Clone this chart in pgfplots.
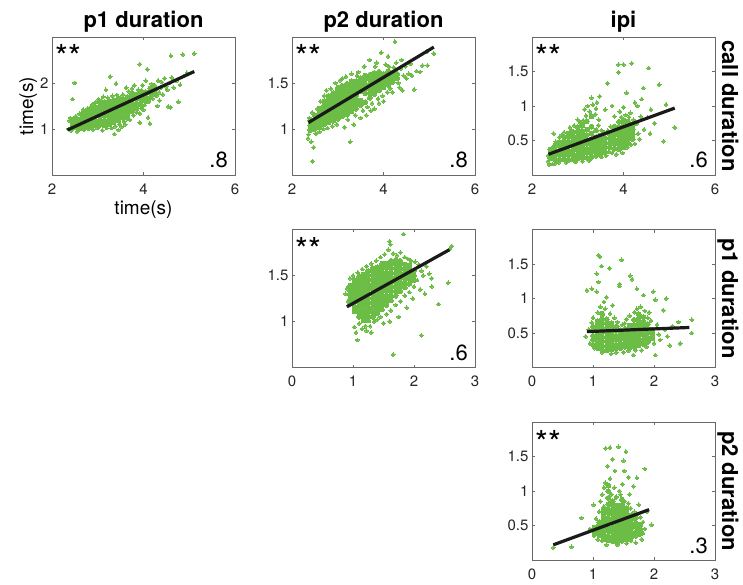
\documentclass[border=0pt]{standalone}
\usepackage{fontspec}
\setmainfont{TeX Gyre Heros}
\usepackage{pgfplots}
\pgfplotsset{compat=1.18}
\definecolor{dotgreen}{RGB}{108,189,69}
\definecolor{axgray}{RGB}{105,105,105}
\definecolor{txtgray}{RGB}{38,38,38}
\definecolor{fitblack}{RGB}{26,26,26}
\newcommand{\titlefont}{\fontsize{22}{22}\selectfont\bfseries}
\newcommand{\starfont}{\fontsize{33}{33}\selectfont}
\newcommand{\numfont}{\fontsize{22}{22}\selectfont}
\pgfplotsset{
  panel/.style={
    width=183pt, height=138pt, scale only axis, anchor=south west, clip=false,
    clip marker paths=true,
    axis line style={draw=axgray, line width=0.8pt},
    tick style={draw=axgray, line width=0.8pt},
    tick align=inside, major tick length=3pt, tick pos=both,
    tick label style={font=\fontsize{15}{15}\selectfont, text=txtgray},
    xticklabel style={yshift=-5pt},
    /pgf/number format/assume math mode=true,
  },
  rowone/.style={xmin=2, xmax=6, xtick={2,4,6}},
  rowlow/.style={xmin=0, xmax=3, xtick={0,1,2,3}},
  core/.style={only marks, mark=*, mark size=2.4pt, mark options={fill=dotgreen, draw=dotgreen, line width=0pt}},
  dots/.style={only marks, mark=*, mark size=1.9pt, mark options={fill=dotgreen, draw=dotgreen, line width=0pt}},
  fit/.style={no marks, line width=3.2pt, color=fitblack},
}
\newcommand{\stars}{\node[anchor=base west, inner sep=0pt, font=\starfont, text=black] at ([xshift=3pt,yshift=-32pt]rel axis cs:0,1) {**};}
\newcommand{\rval}[1]{\node[anchor=base east, inner sep=0pt, font=\numfont, text=black] at ([xshift=-7pt,yshift=7pt]rel axis cs:1,0) {#1};}
\newcommand{\coltitle}[1]{\node[anchor=base, inner sep=0pt, font=\titlefont] at ([yshift=9pt]rel axis cs:0.5,1) {#1};}
\newcommand{\rowlabel}[1]{\node[anchor=base, inner sep=0pt, rotate=-90, font=\titlefont] at ([xshift=7pt]rel axis cs:1,0.5) {#1};}
\begin{document}
\begin{tikzpicture}
\useasboundingbox (0,0) rectangle (743pt,584pt);
% ---------------- row 1, col 1
\begin{axis}[panel, rowone, at={(52pt,409pt)}, ymin=0, ymax=3, ytick={1,2}]
\addplot[core] coordinates {
(2.45,1.02)(2.45,1.12)(2.45,1.20)
(2.55,1.02)(2.55,1.12)(2.55,1.22)
(2.65,1.04)(2.65,1.14)(2.65,1.24)(2.65,1.33)
(2.75,1.06)(2.75,1.16)(2.75,1.26)(2.75,1.36)
(2.85,1.07)(2.85,1.17)(2.85,1.27)(2.85,1.37)(2.85,1.46)
(2.95,1.08)(2.95,1.18)(2.95,1.28)(2.95,1.38)(2.95,1.48)
(3.05,1.09)(3.05,1.19)(3.05,1.29)(3.05,1.39)(3.05,1.49)(3.05,1.57)
(3.15,1.08)(3.15,1.18)(3.15,1.28)(3.15,1.38)(3.15,1.48)(3.15,1.58)
(3.25,1.10)(3.25,1.20)(3.25,1.30)(3.25,1.40)(3.25,1.50)(3.25,1.60)
(3.35,1.14)(3.35,1.24)(3.35,1.34)(3.35,1.44)(3.35,1.54)(3.35,1.63)
(3.45,1.18)(3.45,1.28)(3.45,1.38)(3.45,1.48)(3.45,1.58)(3.45,1.66)
(3.55,1.24)(3.55,1.34)(3.55,1.44)(3.55,1.54)(3.55,1.64)
(3.65,1.30)(3.65,1.40)(3.65,1.50)(3.65,1.60)(3.65,1.70)
(3.75,1.38)(3.75,1.48)(3.75,1.58)(3.75,1.68)(3.75,1.77)
(3.85,1.45)(3.85,1.55)(3.85,1.65)(3.85,1.75)
(3.95,1.52)(3.95,1.62)(3.95,1.72)(3.95,1.82)
(4.05,1.60)(4.05,1.70)(4.05,1.80)
(4.15,1.68)(4.15,1.78)(4.15,1.88)
(4.25,1.76)(4.25,1.86)};
\addplot[dots] coordinates {
(2.36,1.00)(2.38,1.18)(2.40,1.24)(2.42,0.97)(2.45,1.65)(2.50,2.00)(2.52,1.28)(2.55,0.95)
(2.60,1.33)(2.62,1.00)(2.68,1.42)(2.70,0.98)(2.78,1.45)(2.80,1.00)(2.88,1.54)(2.90,0.99)
(2.95,1.58)(3.00,1.02)(3.02,1.65)(3.08,1.62)(3.10,0.97)(3.12,1.70)(3.18,1.85)(3.20,1.02)
(3.22,1.68)(3.27,2.14)(3.30,1.02)(3.32,1.72)(3.36,0.89)(3.38,1.06)(3.40,1.99)(3.42,1.74)
(3.45,0.98)(3.48,1.10)(3.52,1.05)(3.55,1.75)(3.58,1.16)(3.60,1.10)(3.62,1.90)(3.65,1.22)
(3.68,1.82)(3.70,1.20)(3.75,1.88)(3.78,1.30)(3.80,1.95)(3.85,1.36)(3.88,1.85)(3.92,2.41)
(3.92,1.34)(3.92,1.14)(3.96,1.44)(3.98,1.95)(4.02,1.52)(4.05,2.05)(4.08,2.30)(4.10,1.25)
(4.12,1.60)(4.14,1.12)(4.18,1.98)(4.20,1.66)(4.25,1.95)(4.28,1.72)(4.32,2.05)(4.34,1.80)
(4.38,1.90)(4.40,2.02)(4.42,1.75)(4.46,2.10)(4.50,1.92)(4.52,1.85)(4.54,1.49)(4.58,2.00)
(4.60,2.59)(4.62,2.12)(4.66,1.90)(4.72,2.05)(4.76,1.59)(4.80,1.96)(4.86,2.62)(4.88,2.15)
(4.95,2.22)(5.11,2.64)(4.59,1.47)(4.30,1.50)(4.00,1.42)(4.35,1.62)(3.50,1.68)(3.00,1.60)};
\addplot[fit] coordinates {(2.34,0.98) (5.11,2.25)};
\stars \rval{.8}
\coltitle{p1 duration}
\node[anchor=base, inner sep=0pt, rotate=90, font=\fontsize{19}{19}\selectfont] at ([xshift=-19pt]rel axis cs:0,0.5) {time(s)};
\node[anchor=base, inner sep=0pt, font=\fontsize{19}{19}\selectfont] at ([yshift=-40pt]rel axis cs:0.5,0) {time(s)};
\end{axis}
% ---------------- row 1, col 2
\begin{axis}[panel, rowone, at={(292pt,409pt)}, ymin=0.5, ymax=2, ytick={1,1.5}]
\addplot[core] coordinates {
(2.40,0.99)(2.40,1.04)(2.40,1.09)
(2.50,1.00)(2.50,1.05)(2.50,1.10)(2.50,1.15)
(2.60,1.02)(2.60,1.07)(2.60,1.12)(2.60,1.17)(2.60,1.22)
(2.70,1.05)(2.70,1.10)(2.70,1.15)(2.70,1.20)(2.70,1.25)(2.70,1.30)
(2.80,1.07)(2.80,1.12)(2.80,1.17)(2.80,1.22)(2.80,1.27)(2.80,1.32)(2.80,1.36)
(2.90,1.09)(2.90,1.14)(2.90,1.19)(2.90,1.24)(2.90,1.29)(2.90,1.34)(2.90,1.39)
(3.00,1.11)(3.00,1.16)(3.00,1.21)(3.00,1.26)(3.00,1.31)(3.00,1.36)(3.00,1.41)(3.00,1.45)
(3.10,1.14)(3.10,1.19)(3.10,1.24)(3.10,1.29)(3.10,1.34)(3.10,1.39)(3.10,1.44)(3.10,1.47)
(3.20,1.16)(3.20,1.21)(3.20,1.26)(3.20,1.31)(3.20,1.36)(3.20,1.41)(3.20,1.46)(3.20,1.49)
(3.30,1.19)(3.30,1.24)(3.30,1.29)(3.30,1.34)(3.30,1.39)(3.30,1.44)(3.30,1.49)(3.30,1.52)
(3.40,1.22)(3.40,1.27)(3.40,1.32)(3.40,1.37)(3.40,1.42)(3.40,1.47)(3.40,1.52)
(3.50,1.26)(3.50,1.31)(3.50,1.41)(3.50,1.46)(3.50,1.51)(3.50,1.55)
(3.60,1.29)(3.60,1.39)(3.60,1.44)(3.60,1.49)(3.60,1.54)(3.60,1.58)
(3.70,1.34)(3.70,1.39)(3.70,1.44)(3.70,1.49)(3.70,1.54)(3.70,1.59)
(3.80,1.38)(3.80,1.43)(3.80,1.48)(3.80,1.53)(3.80,1.58)(3.80,1.61)
(3.90,1.42)(3.90,1.47)(3.90,1.52)(3.90,1.57)(3.90,1.62)
(4.00,1.45)(4.00,1.50)(4.00,1.55)(4.00,1.60)
(4.10,1.48)(4.10,1.53)(4.10,1.58)(4.10,1.63)
(4.20,1.51)(4.20,1.56)(4.20,1.61)
(4.30,1.55)(4.30,1.60)};
\addplot[dots] coordinates {
(2.35,0.90)(2.36,0.94)(2.38,1.12)(2.42,0.86)(2.45,0.65)(2.47,0.80)(2.44,1.18)(2.52,0.95)
(2.55,1.22)(2.60,0.97)(2.62,1.30)(2.68,1.00)(2.70,1.36)(2.75,1.42)(2.78,1.01)(2.85,1.44)
(2.88,1.03)(2.95,1.50)(2.98,1.05)(3.05,1.53)(3.10,1.55)(3.15,1.02)(3.18,1.57)(3.22,1.10)
(3.27,0.86)(3.30,1.60)(3.35,1.05)(3.38,1.15)(3.42,1.58)(3.45,1.62)(3.50,1.12)(3.55,1.20)
(3.58,1.68)(3.62,1.15)(3.65,1.24)(3.70,1.75)(3.72,1.20)(3.75,1.28)(3.80,1.22)(3.82,1.68)
(3.85,1.72)(3.88,1.33)(3.90,1.28)(3.95,1.83)(3.98,1.36)(4.00,1.30)(4.05,1.70)(4.08,1.40)
(4.10,1.79)(4.12,1.68)(4.15,1.44)(4.20,1.40)(4.22,1.67)(4.25,1.95)(4.28,1.72)(4.32,1.50)
(4.35,1.45)(4.38,1.66)(4.40,1.75)(4.41,1.42)(4.44,1.58)(4.48,1.68)(4.50,1.55)(4.55,1.60)
(4.59,1.71)(4.62,1.58)(4.67,1.43)(4.72,1.63)(4.80,1.62)(4.85,1.69)(4.94,1.84)(4.96,1.69)
(5.10,1.82)(3.48,1.52)(3.60,1.46)};
\addplot[fit] coordinates {(2.36,1.07) (5.10,1.89)};
\stars \rval{.8}
\coltitle{p2 duration}
\end{axis}
% ---------------- row 1, col 3
\begin{axis}[panel, rowone, at={(532pt,409pt)}, ymin=0, ymax=2, ytick={0.5,1,1.5}]
\addplot[core] coordinates {
(2.40,0.24)(2.40,0.30)(2.40,0.37)
(2.50,0.23)(2.50,0.30)(2.50,0.36)(2.50,0.43)
(2.60,0.22)(2.60,0.29)(2.60,0.35)(2.60,0.42)(2.60,0.48)
(2.70,0.23)(2.70,0.29)(2.70,0.36)(2.70,0.42)(2.70,0.49)(2.70,0.55)
(2.80,0.22)(2.80,0.29)(2.80,0.35)(2.80,0.42)(2.80,0.48)(2.80,0.55)(2.80,0.60)
(2.90,0.23)(2.90,0.29)(2.90,0.36)(2.90,0.42)(2.90,0.49)(2.90,0.55)(2.90,0.62)
(3.00,0.24)(3.00,0.30)(3.00,0.37)(3.00,0.43)(3.00,0.50)(3.00,0.56)(3.00,0.63)(3.00,0.69)
(3.10,0.25)(3.10,0.31)(3.10,0.38)(3.10,0.44)(3.10,0.51)(3.10,0.57)(3.10,0.64)(3.10,0.72)
(3.20,0.25)(3.20,0.32)(3.20,0.38)(3.20,0.45)(3.20,0.51)(3.20,0.58)(3.20,0.66)(3.20,0.78)
(3.30,0.26)(3.30,0.33)(3.30,0.39)(3.30,0.46)(3.30,0.52)(3.30,0.60)(3.30,0.70)(3.30,0.85)
(3.40,0.28)(3.40,0.34)(3.40,0.41)(3.40,0.47)(3.40,0.55)(3.40,0.65)
(3.50,0.30)(3.50,0.36)(3.50,0.43)(3.50,0.50)(3.50,0.57)
(3.60,0.33)(3.60,0.40)(3.60,0.47)(3.60,0.54)
(3.70,0.40)(3.70,0.47)(3.70,0.54)(3.70,0.60)
(3.80,0.38)(3.80,0.45)(3.80,0.51)(3.80,0.58)(3.80,0.64)(3.80,0.70)
(3.90,0.37)(3.90,0.44)(3.90,0.50)(3.90,0.57)(3.90,0.63)(3.90,0.70)(3.90,0.77)
(4.00,0.40)(4.00,0.47)(4.00,0.53)(4.00,0.60)(4.00,0.66)(4.00,0.73)(4.00,0.80)
(4.10,0.45)(4.10,0.52)(4.10,0.58)(4.10,0.65)(4.10,0.71)(4.10,0.78)
(4.20,0.52)(4.20,0.59)(4.20,0.66)(4.20,0.72)};
\addplot[dots] coordinates {
(2.35,0.20)(2.36,0.28)(2.38,0.15)(2.42,0.38)(2.45,0.16)(2.50,0.17)(2.47,0.60)(2.52,0.48)
(2.58,0.18)(2.60,0.55)(2.65,0.58)(2.70,0.62)(2.75,0.18)(2.83,0.69)(2.86,0.65)(2.92,0.72)
(2.95,0.19)(3.00,0.80)(3.05,0.76)(3.12,0.79)(3.10,0.20)(3.15,0.95)(3.18,0.86)(3.22,1.00)
(3.26,0.92)(3.30,1.12)(3.33,1.02)(3.25,0.21)(3.38,0.88)(3.40,0.96)(3.42,1.05)(3.46,0.80)
(3.48,1.14)(3.45,0.72)(3.52,0.65)(3.55,0.60)(3.52,0.26)(3.60,0.95)(3.58,0.62)(3.65,1.33)
(3.62,0.28)(3.68,0.34)(3.66,0.64)(3.72,0.70)(3.75,0.32)(3.80,0.85)(3.84,0.30)(3.89,1.60)
(3.89,1.49)(3.92,0.92)(3.95,0.84)(4.00,1.60)(3.98,0.32)(4.05,0.87)(4.07,1.19)(4.08,0.40)
(4.12,0.84)(4.15,0.90)(4.18,1.62)(4.16,0.44)(4.22,0.80)(4.25,0.45)(4.28,0.74)(4.30,1.00)
(4.32,0.60)(4.35,0.52)(4.38,0.85)(4.40,1.10)(4.43,1.26)(4.45,0.66)(4.52,0.83)(4.55,1.55)
(4.58,0.60)(4.60,0.95)(4.68,0.75)(4.78,1.31)(4.88,0.49)(4.93,1.02)(5.12,0.69)(4.25,1.05)
(3.75,1.00)(4.00,0.98)};
\addplot[fit] coordinates {(2.36,0.30) (5.12,0.97)};
\stars \rval{.6}
\coltitle{ipi}
\rowlabel{call duration}
\end{axis}
% ---------------- row 2, col 2
\begin{axis}[panel, rowlow, at={(292pt,216.5pt)}, ymin=0.5, ymax=2, ytick={1,1.5}]
\addplot[core] coordinates {
(0.950,1.19)(0.950,1.24)(0.950,1.29)(0.950,1.34)(0.950,1.39)
(1.025,1.11)(1.025,1.16)(1.025,1.21)(1.025,1.26)(1.025,1.31)(1.025,1.36)(1.025,1.41)(1.025,1.45)
(1.100,1.05)(1.100,1.10)(1.100,1.15)(1.100,1.20)(1.100,1.25)(1.100,1.30)(1.100,1.35)(1.100,1.40)(1.100,1.45)(1.100,1.49)
(1.175,1.01)(1.175,1.06)(1.175,1.11)(1.175,1.16)(1.175,1.21)(1.175,1.26)(1.175,1.31)(1.175,1.36)(1.175,1.41)(1.175,1.46)(1.175,1.51)
(1.250,1.01)(1.250,1.06)(1.250,1.11)(1.250,1.16)(1.250,1.21)(1.250,1.26)(1.250,1.31)(1.250,1.36)(1.250,1.41)(1.250,1.46)(1.250,1.51)(1.250,1.55)
(1.325,1.05)(1.325,1.10)(1.325,1.15)(1.325,1.20)(1.325,1.25)(1.325,1.30)(1.325,1.35)(1.325,1.40)(1.325,1.45)(1.325,1.50)(1.325,1.55)(1.325,1.58)
(1.400,1.09)(1.400,1.14)(1.400,1.19)(1.400,1.24)(1.400,1.29)(1.400,1.34)(1.400,1.39)(1.400,1.44)(1.400,1.49)(1.400,1.54)(1.400,1.59)
(1.475,1.13)(1.475,1.18)(1.475,1.23)(1.475,1.28)(1.475,1.33)(1.475,1.38)(1.475,1.43)(1.475,1.48)(1.475,1.53)(1.475,1.58)(1.475,1.63)
(1.550,1.18)(1.550,1.23)(1.550,1.28)(1.550,1.33)(1.550,1.38)(1.550,1.43)(1.550,1.48)(1.550,1.53)(1.550,1.58)(1.550,1.63)
(1.625,1.23)(1.625,1.28)(1.625,1.33)(1.625,1.38)(1.625,1.43)(1.625,1.48)(1.625,1.53)(1.625,1.58)(1.625,1.63)(1.625,1.66)
(1.700,1.28)(1.700,1.33)(1.700,1.38)(1.700,1.43)(1.700,1.48)(1.700,1.53)(1.700,1.58)(1.700,1.63)(1.700,1.67)
(1.775,1.33)(1.775,1.38)(1.775,1.43)(1.775,1.48)(1.775,1.53)(1.775,1.58)(1.775,1.63)(1.775,1.66)
(1.850,1.37)(1.850,1.42)(1.850,1.47)(1.850,1.52)(1.850,1.57)(1.850,1.62)
(1.925,1.41)(1.925,1.46)(1.925,1.51)(1.925,1.56)(1.925,1.61)
(2.000,1.45)(2.000,1.50)(2.000,1.55)};
\addplot[dots] coordinates {
(0.90,1.36)(0.88,1.30)(0.92,1.22)(0.95,1.47)(1.00,1.50)(1.02,0.94)(1.05,0.88)(1.07,0.80)
(1.10,0.98)(1.15,0.92)(1.20,0.95)(1.22,0.90)(1.28,0.95)(1.30,0.88)(1.35,1.00)(1.40,1.02)
(1.45,1.05)(1.08,1.53)(1.15,1.57)(1.22,1.60)(1.30,1.63)(1.38,1.66)(1.45,1.70)(1.52,1.73)
(1.58,1.78)(1.60,1.87)(1.61,1.84)(1.66,1.74)(1.72,1.72)(1.78,1.75)(1.83,1.95)(1.85,1.70)
(1.90,1.68)(1.95,1.66)(2.02,1.65)(2.05,1.45)(2.08,1.62)(2.10,1.35)(2.12,1.55)(2.15,1.50)
(2.18,1.30)(2.20,1.60)(2.25,1.52)(2.29,1.47)(2.29,1.38)(2.40,1.19)(2.56,1.42)(2.59,1.79)
(2.62,1.82)(2.12,0.85)(1.66,0.64)(1.55,1.08)(1.62,1.12)(1.70,1.18)(1.78,1.22)(1.85,1.28)
(1.92,1.32)(2.00,1.38)(1.98,1.25)(1.88,1.15)(1.75,1.05)(1.60,1.00)(1.50,0.98)};
\addplot[fit] coordinates {(0.90,1.16) (2.58,1.78)};
\stars \rval{.6}
\end{axis}
% ---------------- row 2, col 3
\begin{axis}[panel, rowlow, at={(532pt,216.5pt)}, ymin=0, ymax=2, ytick={0.5,1,1.5}]
\addplot[core] coordinates {
(1.000,0.33)(1.000,0.40)(1.000,0.46)(1.000,0.53)(1.000,0.59)
(1.075,0.28)(1.075,0.35)(1.075,0.41)(1.075,0.48)(1.075,0.54)(1.075,0.61)(1.075,0.67)
(1.150,0.26)(1.150,0.32)(1.150,0.39)(1.150,0.45)(1.150,0.52)(1.150,0.58)(1.150,0.65)(1.150,0.71)(1.150,0.78)
(1.225,0.25)(1.225,0.31)(1.225,0.38)(1.225,0.44)(1.225,0.51)(1.225,0.57)(1.225,0.64)(1.225,0.70)
(1.300,0.26)(1.300,0.32)(1.300,0.39)(1.300,0.45)(1.300,0.52)(1.300,0.58)(1.300,0.64)
(1.375,0.27)(1.375,0.33)(1.375,0.40)(1.375,0.46)(1.375,0.53)(1.375,0.59)
(1.450,0.28)(1.450,0.34)(1.450,0.41)(1.450,0.47)(1.450,0.54)
(1.525,0.30)(1.525,0.36)(1.525,0.43)(1.525,0.49)(1.525,0.56)
(1.600,0.29)(1.600,0.35)(1.600,0.42)(1.600,0.48)(1.600,0.55)(1.600,0.61)
(1.675,0.30)(1.675,0.36)(1.675,0.43)(1.675,0.49)(1.675,0.56)(1.675,0.62)(1.675,0.69)
(1.750,0.32)(1.750,0.38)(1.750,0.45)(1.750,0.51)(1.750,0.58)(1.750,0.64)(1.750,0.71)(1.750,0.77)
(1.825,0.34)(1.825,0.40)(1.825,0.47)(1.825,0.53)(1.825,0.60)(1.825,0.66)(1.825,0.73)
(1.900,0.37)(1.900,0.43)(1.900,0.50)(1.900,0.56)(1.900,0.63)
(1.975,0.42)(1.975,0.48)(1.975,0.55)};
\addplot[dots] coordinates {
(0.88,0.45)(0.90,1.12)(0.93,0.55)(0.95,0.35)(0.98,1.14)(0.98,0.65)(1.00,0.72)(1.03,0.28)
(1.06,1.10)(1.06,1.36)(1.08,0.80)(1.09,1.24)(1.09,1.63)(1.11,1.61)(1.12,0.88)(1.14,1.47)
(1.15,0.22)(1.18,0.95)(1.20,0.85)(1.22,1.02)(1.25,0.25)(1.27,1.44)(1.28,0.78)(1.30,0.20)
(1.32,0.90)(1.35,0.72)(1.38,0.22)(1.40,0.66)(1.43,1.18)(1.44,1.21)(1.47,1.56)(1.48,0.62)
(1.50,0.22)(1.52,0.64)(1.55,0.70)(1.58,0.24)(1.60,0.75)(1.61,1.33)(1.64,1.28)(1.66,0.18)
(1.68,0.80)(1.70,0.25)(1.72,1.14)(1.72,0.85)(1.78,0.88)(1.80,0.25)(1.83,1.05)(1.85,0.82)
(1.88,0.30)(1.90,0.72)(1.95,0.68)(1.99,1.10)(2.00,0.35)(2.02,0.98)(2.02,0.18)(2.05,0.62)
(2.08,0.48)(2.10,0.40)(2.15,0.83)(2.18,0.55)(2.20,1.00)(2.22,0.45)(2.26,0.32)(2.30,0.60)
(2.40,0.66)(2.43,0.35)(2.62,0.69)(2.62,0.50)(1.92,0.80)(1.40,0.60)};
\addplot[fit] coordinates {(0.90,0.52) (2.58,0.58)};
\rowlabel{p1 duration}
\end{axis}
% ---------------- row 3, col 3
\begin{axis}[panel, rowlow, at={(532pt,24pt)}, ymin=0, ymax=2, ytick={0.5,1,1.5}]
\addplot[core] coordinates {
(1.025,0.40)(1.025,0.47)
(1.100,0.36)(1.100,0.42)(1.100,0.49)(1.100,0.55)
(1.175,0.30)(1.175,0.36)(1.175,0.42)(1.175,0.48)(1.175,0.54)(1.175,0.60)(1.175,0.66)(1.175,0.73)
(1.250,0.29)(1.250,0.35)(1.250,0.42)(1.250,0.48)(1.250,0.55)(1.250,0.61)(1.250,0.68)(1.250,0.74)(1.250,0.81)(1.250,0.90)(1.250,1.00)(1.250,1.08)
(1.325,0.27)(1.325,0.33)(1.325,0.40)(1.325,0.46)(1.325,0.53)(1.325,0.59)(1.325,0.66)(1.325,0.72)(1.325,0.79)(1.325,0.85)
(1.400,0.27)(1.400,0.33)(1.400,0.40)(1.400,0.46)(1.400,0.53)(1.400,0.59)(1.400,0.66)(1.400,0.72)(1.400,0.79)
(1.475,0.28)(1.475,0.34)(1.475,0.41)(1.475,0.47)(1.475,0.54)(1.475,0.60)(1.475,0.67)(1.475,0.73)(1.475,0.80)(1.475,0.88)
(1.550,0.30)(1.550,0.36)(1.550,0.43)(1.550,0.49)(1.550,0.56)(1.550,0.62)(1.550,0.69)(1.550,0.75)
(1.625,0.33)(1.625,0.39)(1.625,0.46)(1.625,0.52)(1.625,0.59)(1.625,0.65)
(1.700,0.35)(1.700,0.41)(1.700,0.48)(1.700,0.54)(1.700,0.61)
(1.775,0.38)(1.775,0.44)(1.775,0.51)};
\addplot[dots] coordinates {
(0.35,0.18)(0.65,0.19)(0.81,0.61)(0.95,0.45)(1.01,0.80)(1.02,0.35)(1.06,0.48)(1.05,0.60)
(1.08,0.30)(1.10,0.70)(1.12,0.85)(1.15,0.95)(1.15,0.28)(1.18,1.05)(1.18,0.78)(1.20,1.12)
(1.21,1.62)(1.22,0.22)(1.24,1.36)(1.28,1.63)(1.28,1.18)(1.30,0.95)(1.32,1.46)(1.35,1.05)
(1.36,1.29)(1.38,0.92)(1.40,0.22)(1.42,1.64)(1.43,1.00)(1.45,0.95)(1.50,1.44)(1.51,1.29)
(1.52,0.85)(1.54,1.57)(1.55,0.24)(1.58,1.20)(1.58,0.82)(1.60,0.95)(1.62,0.75)(1.62,0.28)
(1.66,1.07)(1.68,0.70)(1.70,0.25)(1.72,1.19)(1.72,0.66)(1.75,0.80)(1.78,0.62)(1.80,0.30)
(1.82,0.39)(1.82,0.55)(1.85,1.32)(1.85,0.45)(1.88,0.70)(1.96,0.51)(1.48,1.10)(1.38,0.90)
(1.26,0.88)};
\addplot[fit] coordinates {(0.35,0.22) (1.92,0.73)};
\stars \rval{.3}
\rowlabel{p2 duration}
\end{axis}
\end{tikzpicture}
\end{document}
